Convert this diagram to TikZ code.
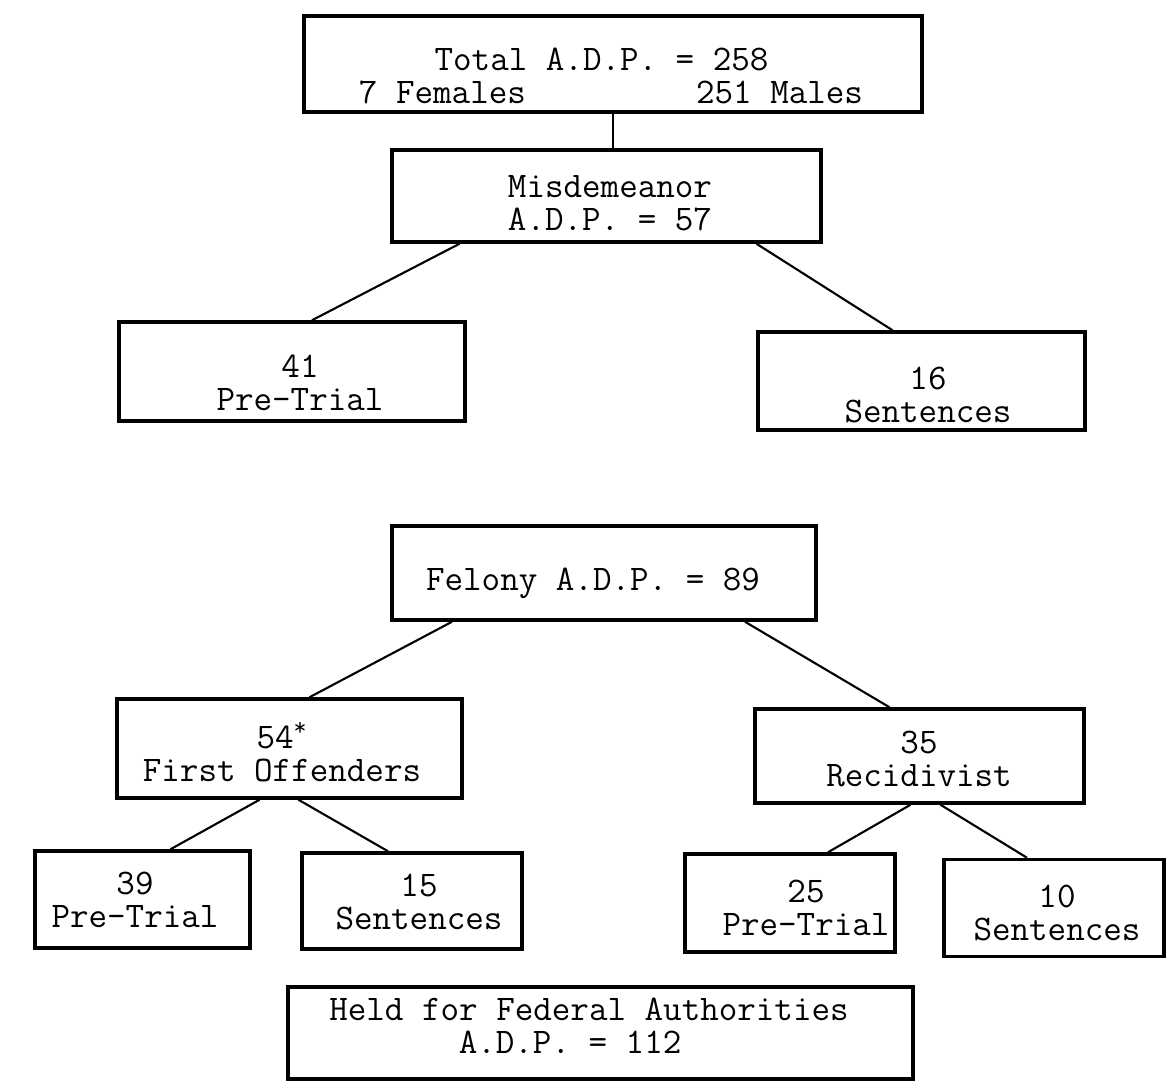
\documentclass[tikz,border=0pt]{standalone}
\usepackage{fontspec}
\usepackage{tikz}
\usetikzlibrary{calc}
\newcommand{\adpfont}{\ttfamily\fontsize{20.5}{18.6}\selectfont}
\tikzset{
  adpbox/.style={draw=black,line width=2pt,inner sep=0pt},
  boxsize/.style 2 args={minimum width=#1*0.02cm,minimum height=#2*0.02cm},
  adptext/.style={font=\adpfont,align=center,inner sep=0pt},
  adpline/.style={line width=1.2pt}
}

\begin{document}
\begin{tikzpicture}[x=0.02cm,y=-0.02cm]
  \useasboundingbox (0,0) rectangle (1169,1082);
  % boxes
  \node[adpbox,boxsize={618}{96}] (total) at (613,64) {};
  \node[adpbox,boxsize={429}{92}] (misdem) at (606.5,196) {};
  \node[adpbox,boxsize={346}{99}] (misdpre) at (292,371.5) {};
  \node[adpbox,boxsize={327}{98}] (misdsent) at (921.5,381) {};
  \node[adpbox,boxsize={424}{94}] (felony) at (604,573) {};
  \node[adpbox,boxsize={345}{99}] (firstoff) at (289.5,748.5) {};
  \node[adpbox,boxsize={329}{94}] (recidiv) at (919.5,756) {};
  \node[adpbox,boxsize={215}{97}] (firstpre) at (142.5,899.5) {};
  \node[adpbox,boxsize={220}{96}] (firstsent) at (412,901) {};
  \node[adpbox,boxsize={210}{98}] (recidpre) at (790,903) {};
  \node[adpbox,boxsize={220}{97}] (recidsent) at (1054,908) {};
  \node[adpbox,boxsize={625}{92}] (federal) at (600.5,1033) {};
  % texts
  \node[adptext] (totaltxt) at (611,76) {Total A.D.P. = 258\hspace*{0.525em}\\7 Females\hspace*{4.725em}251 Males};
  \node[adptext] (misdemtxt) at (610,203) {Misdemeanor\\A.D.P. = 57};
  \node[adptext] (misdpretxt) at (300,383) {41\\Pre-Trial};
  \node[adptext] (misdsenttxt) at (928,395) {16\\Sentences};
  \node[adptext] (felonytxt) at (593,583) {Felony A.D.P. = 89};
  \node[adptext] (firstofftxt) at (282,752) {54\textsuperscript{*}\\First Offenders};
  \node[adptext] (recidivtxt) at (919,759) {35\\Recidivist};
  \node[adptext] (firstpretxt) at (135,900) {39\\Pre-Trial};
  \node[adptext] (firstsenttxt) at (419,902) {15\\Sentences};
  \node[adptext] (recidpretxt) at (806,908) {25\\Pre-Trial};
  \node[adptext] (recidsenttxt) at (1057,913) {10\\Sentences};
  \node[adptext] (federaltxt) at (589,1026) {Held for Federal Authorities\\A.D.P. = 112\hspace*{1.05em}};
  % connectors
  \draw[adpline] (total.south) -- (total.south |- misdem.north);
  \draw[adpline] ($(misdem.south)+(-147,0)$) -- ($(misdpre.north)+(20,0)$);
  \draw[adpline] ($(misdem.south)+(150,0)$) -- ($(misdsent.north)+(-29,0)$);
  \draw[adpline] ($(felony.south)+(-152,0)$) -- ($(firstoff.north)+(20,0)$);
  \draw[adpline] ($(felony.south)+(141,0)$) -- ($(recidiv.north)+(-30,0)$);
  \draw[adpline] ($(firstoff.south)+(-30,0)$) -- ($(firstpre.north)+(28,0)$);
  \draw[adpline] ($(firstoff.south)+(9,0)$) -- ($(firstsent.north)+(-24,0)$);
  \draw[adpline] ($(recidiv.south)+(-9,0)$) -- ($(recidpre.north)+(38,0)$);
  \draw[adpline] ($(recidiv.south)+(21,0)$) -- ($(recidsent.north)+(-27,0)$);
\end{tikzpicture}
\end{document}
